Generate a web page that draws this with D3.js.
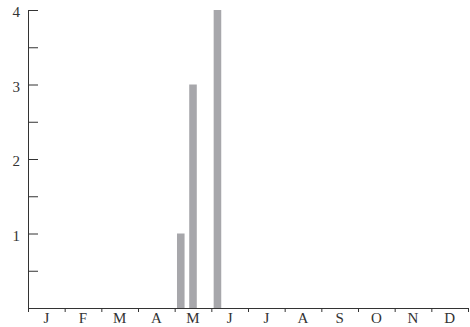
<!DOCTYPE html>
<html>
<head>
<meta charset="utf-8">
<script src="https://cdn.jsdelivr.net/npm/d3@7"></script>
<style>
  body { margin: 0; background: #fff; }
  text { font-family: "Liberation Serif", "DejaVu Serif", serif; fill: #333; }
</style>
</head>
<body>
<div id="chart"></div>
<script>
// data: counts per ten-day period (3 per month)
const months = ["J", "F", "M", "A", "M", "J", "J", "A", "S", "O", "N", "D"];
const counts = [
  0, 0, 0,   // Jan
  0, 0, 0,   // Feb
  0, 0, 0,   // Mar
  0, 0, 0,   // Apr
  1, 3, 0,   // May
  4, 0, 0,   // Jun
  0, 0, 0,   // Jul
  0, 0, 0,   // Aug
  0, 0, 0,   // Sep
  0, 0, 0,   // Oct
  0, 0, 0,   // Nov
  0, 0, 0    // Dec
];
const yTicks = [0, 0.5, 1, 1.5, 2, 2.5, 3, 3.5, 4];
const yLabels = [1, 2, 3, 4];

const W = 470, H = 327;
const margin = { top: 10, right: 2, bottom: 19, left: 28 };
const plotLeft = margin.left, plotRight = W - margin.right;
const plotTop = margin.top, plotBottom = H - margin.bottom;

const svg = d3.select("#chart").append("svg")
  .attr("width", W)
  .attr("height", H);

// scales
const x = d3.scaleBand()
  .domain(d3.range(counts.length))
  .range([plotLeft, plotRight])
  .paddingInner(0.38)
  .paddingOuter(0.19);

const xMonth = d3.scaleBand()
  .domain(d3.range(months.length))
  .range([plotLeft, plotRight]);

const xEdge = d3.scaleLinear()
  .domain([0, months.length])
  .range([plotLeft, plotRight]);

const y = d3.scaleLinear()
  .domain([0, 4])
  .range([plotBottom, plotTop]);

// bars
svg.selectAll("rect.bar")
  .data(counts.map((c, i) => ({ i, c })).filter(d => d.c > 0))
  .enter()
  .append("rect")
  .attr("class", "bar")
  .attr("x", d => x(d.i))
  .attr("width", x.bandwidth())
  .attr("y", d => y(d.c))
  .attr("height", d => y(0) - y(d.c))
  .attr("fill", "#a7a7ab");

// y axis
const yAxis = svg.append("g")
  .attr("transform", `translate(${plotLeft},0)`)
  .call(d3.axisLeft(y)
    .tickValues(yTicks)
    .tickSizeInner(-10)
    .tickSizeOuter(0)
    .tickPadding(8)
    .tickFormat(d => yLabels.includes(d) ? d : ""));
yAxis.select(".domain").attr("stroke", "#333");
yAxis.selectAll(".tick line").attr("stroke", "#333");
yAxis.selectAll("text")
  .attr("font-size", 15)
  .attr("dy", "0.45em");

// x axis: month boundary ticks
const xAxis = svg.append("g")
  .attr("transform", `translate(0,${plotBottom})`)
  .call(d3.axisBottom(xEdge)
    .tickValues(d3.range(months.length + 1))
    .tickSizeInner(4)
    .tickSizeOuter(0)
    .tickFormat(""));
xAxis.select(".domain").attr("stroke", "#333");
xAxis.selectAll(".tick line").attr("stroke", "#333");

// month labels
svg.append("g")
  .attr("transform", `translate(0,${plotBottom})`)
  .call(d3.axisBottom(xMonth)
    .tickSize(0)
    .tickPadding(5)
    .tickFormat(i => months[i]))
  .call(g => g.select(".domain").remove())
  .selectAll("text")
  .attr("font-size", 15)
  .attr("dy", "0.66em");
</script>
</body>
</html>
